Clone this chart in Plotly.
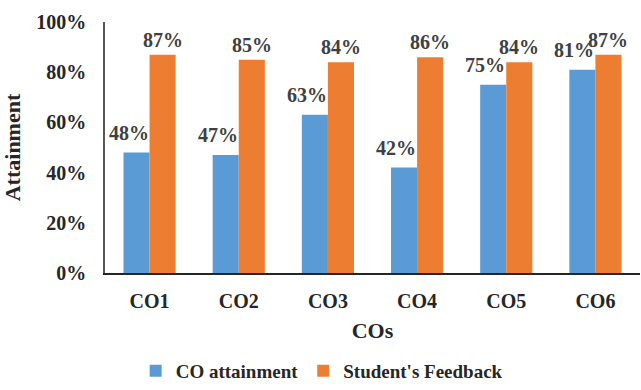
import plotly.graph_objects as go

categories = ["CO1", "CO2", "CO3", "CO4", "CO5", "CO6"]
co_attainment = [0.48, 0.47, 0.63, 0.42, 0.75, 0.81]
student_feedback = [0.87, 0.85, 0.84, 0.86, 0.84, 0.87]
y_ticks = [0, 0.2, 0.4, 0.6, 0.8, 1.0]
y_tick_labels = ["0%", "20%", "40%", "60%", "80%", "100%"]

BLUE = "#5B9BD5"
ORANGE = "#ED7D31"
SERIF = "Liberation Serif, Times New Roman, serif"
INK = "#262626"

x_idx = list(range(len(categories)))

fig = go.Figure()
fig.add_trace(go.Bar(
    name="CO attainment", x=x_idx, y=co_attainment,
    marker=dict(color=BLUE, line=dict(width=0)),
))
fig.add_trace(go.Bar(
    name="Student's Feedback", x=x_idx, y=student_feedback,
    marker=dict(color=ORANGE, line=dict(width=0)),
))

# value labels: feedback centred over its bar, attainment nudged left
half = 0.145
label_font = dict(family=SERIF, size=20, color="#404040", weight="bold")
for i, v in enumerate(co_attainment):
    fig.add_annotation(x=i - half, y=v, text=f"{round(v * 100)}%",
                       showarrow=False, xshift=-8, yshift=20,
                       font=label_font)
for i, v in enumerate(student_feedback):
    fig.add_annotation(x=i + half, y=v, text=f"{round(v * 100)}%",
                       showarrow=False, yshift=15, font=label_font)

fig.update_layout(
    width=641, height=390,
    margin=dict(l=105, r=1, t=22, b=117, autoexpand=False),
    paper_bgcolor="white", plot_bgcolor="white",
    barmode="group", bargap=0.415, bargroupgap=0,
    font=dict(family=SERIF, color=INK),
    showlegend=True,
    legend=dict(orientation="h", x=0.405, xref="paper", xanchor="center",
                y=0.0, yref="container", yanchor="bottom",
                font=dict(family=SERIF, size=19, color=INK, weight="bold"),
                itemwidth=30, tracegroupgap=0),
)
fig.update_xaxes(
    tickmode="array", tickvals=x_idx, ticktext=categories,
    range=[-0.5, 5.5], showline=True, linecolor=INK, linewidth=1.5,
    showgrid=False, zeroline=False, ticks="",
    tickfont=dict(family=SERIF, size=20, color=INK, weight="bold"),
    ticklabelstandoff=9, automargin=False,
    title=dict(text="COs", font=dict(family=SERIF, size=22, color=INK, weight="bold"),
               standoff=12),
)
fig.update_yaxes(
    range=[0, 1.0], tickmode="array", tickvals=y_ticks, ticktext=y_tick_labels,
    showline=True, linecolor="#595959", linewidth=1.5,
    showgrid=False, zeroline=False, ticks="",
    tickfont=dict(family=SERIF, size=20, color=INK, weight="bold"),
    ticklabelstandoff=13, automargin=False,
    title=dict(text="Attainment", font=dict(family=SERIF, size=22, color=INK, weight="bold"),
               standoff=10),
)

fig.write_html("out.html")
